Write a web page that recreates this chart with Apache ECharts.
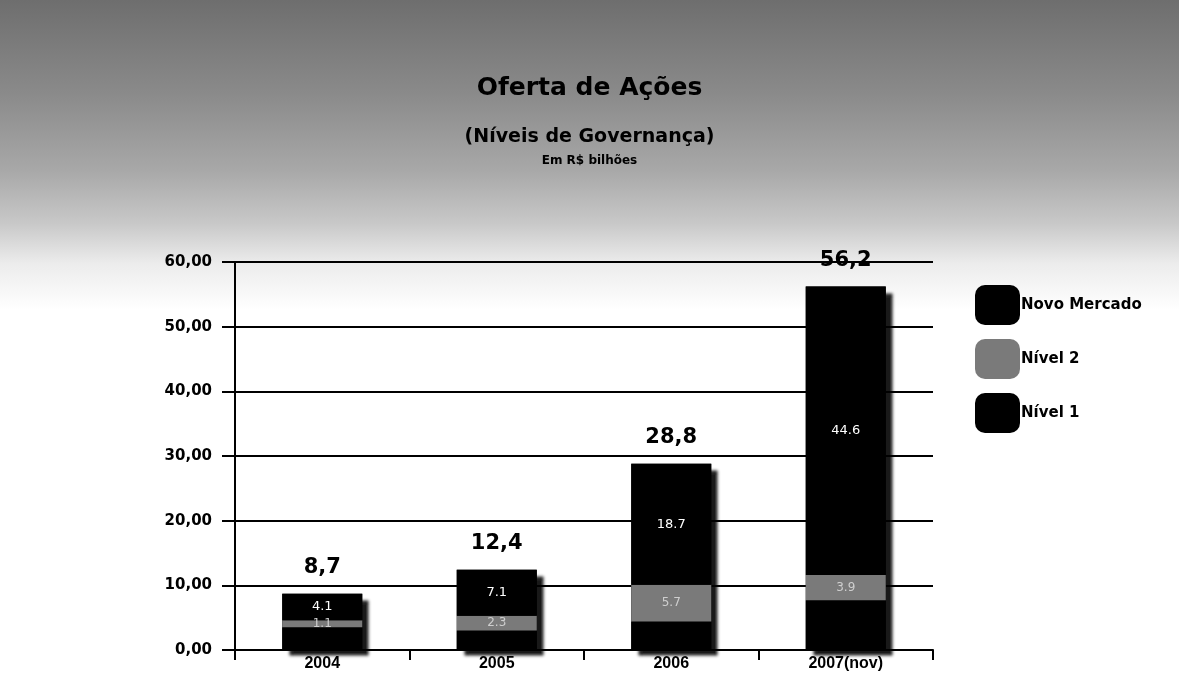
<!DOCTYPE html>
<html>
<head>
<meta charset="utf-8">
<script src="https://cdn.jsdelivr.net/npm/echarts@6/dist/echarts.min.js"></script>
<style>
  html, body { margin: 0; padding: 0; background: #fff; }
  #main { width: 1179px; height: 679px; }
</style>
</head>
<body>
<div id="main"></div>
<script>
// dados (R$ bilhões)
const anos = ['2004', '2005', '2006', '2007(nov)']
const nivel1 = [3.5, 3.0, 4.4, 7.7]
const nivel2 = [1.1, 2.3, 5.7, 3.9]
const novoMercado = [4.1, 7.1, 18.7, 44.6]
const totais = [8.7, 12.4, 28.8, 56.2]
const yTicks = [0, 10, 20, 30, 40, 50, 60]

const fmt = v => v.toFixed(1).replace('.', ',')

const chart = echarts.init(document.getElementById('main'))

const option = {
  animation: false,
  backgroundColor: '#fff',
  graphic: [
    {
      type: 'rect',
      z: -100,
      silent: true,
      shape: { x: 0, y: 0, width: 1179, height: 310 },
      style: {
        fill: new echarts.graphic.LinearGradient(0, 0, 0, 1, [
          { offset: 0, color: '#6e6e6e' },
          { offset: 0.3, color: '#8a8a8a' },
          { offset: 0.55, color: '#a8a8a8' },
          { offset: 0.72, color: '#c8c8c8' },
          { offset: 0.85, color: '#ececec' },
          { offset: 1, color: '#ffffff' }
        ])
      }
    }
  ],
  title: [
    {
      text: 'Oferta de Ações',
      left: 'center',
      top: 71,
      textStyle: { fontFamily: 'DejaVu Sans', fontWeight: 'bold', fontSize: 25, color: '#000' }
    },
    {
      text: '(Níveis de Governança)',
      left: 'center',
      top: 123,
      textStyle: { fontFamily: 'DejaVu Sans', fontWeight: 'bold', fontSize: 19, color: '#000' }
    },
    {
      text: 'Em R$ bilhões',
      left: 'center',
      top: 150,
      textStyle: { fontFamily: 'DejaVu Sans', fontWeight: 'bold', fontSize: 12, color: '#000' }
    }
  ],
  legend: {
    orient: 'vertical',
    left: 970,
    top: 280,
    itemWidth: 45,
    itemHeight: 40,
    itemGap: 14,
    icon: 'roundRect',
    data: ['Novo Mercado', 'Nível 2', 'Nível 1'],
    textStyle: {
      fontFamily: 'DejaVu Sans',
      fontWeight: 'bold',
      fontSize: 15,
      color: '#000',
      padding: [14, 0, 0, -4]
    }
  },
  grid: {
    left: 235,
    right: 246,
    top: 262,
    bottom: 29
  },
  xAxis: {
    type: 'category',
    data: anos,
    axisLine: { lineStyle: { color: '#000', width: 2 } },
    axisTick: { show: true, length: 10, lineStyle: { color: '#000', width: 2 } },
    axisLabel: {
      margin: 6,
      fontFamily: 'Liberation Sans Narrow, Liberation Sans',
      fontWeight: 'bold',
      fontSize: 16,
      color: '#000'
    }
  },
  yAxis: {
    type: 'value',
    min: yTicks[0],
    max: yTicks[yTicks.length - 1],
    interval: 10,
    axisLine: { show: true, lineStyle: { color: '#000', width: 2 } },
    axisTick: { show: true, length: 13, lineStyle: { color: '#000', width: 2 } },
    splitLine: { lineStyle: { color: '#000', width: 2 } },
    axisLabel: {
      margin: 23,
      fontFamily: 'DejaVu Sans',
      fontWeight: 'bold',
      fontSize: 15,
      color: '#000',
      formatter: v => v.toFixed(2).replace('.', ',')
    }
  },
  series: [
    {
      // barra de fundo só para a sombra deslocada (efeito de relevo)
      name: 'Sombra',
      type: 'bar',
      barWidth: 80,
      barGap: '-100%',
      z: 1,
      data: totais,
      itemStyle: {
        color: '#000',
        shadowColor: 'rgba(0,0,0,0.9)',
        shadowBlur: 3,
        shadowOffsetX: 7,
        shadowOffsetY: 6
      },
      label: {
        show: true,
        position: 'top',
        distance: 16,
        color: '#000',
        fontFamily: 'DejaVu Sans',
        fontWeight: 'bold',
        fontSize: 21,
        formatter: p => fmt(p.value)
      }
    },
    {
      name: 'Nível 1',
      type: 'bar',
      stack: 'total',
      barWidth: 80,
      data: nivel1,
      itemStyle: { color: '#000' }
    },
    {
      name: 'Nível 2',
      type: 'bar',
      stack: 'total',
      data: nivel2,
      itemStyle: { color: '#7a7a7a' },
      label: {
        show: true,
        position: 'inside',
        color: '#cfcfcf',
        fontFamily: 'DejaVu Sans',
        fontSize: 12,
        formatter: p => p.value.toFixed(1)
      }
    },
    {
      name: 'Novo Mercado',
      type: 'bar',
      stack: 'total',
      data: novoMercado,
      itemStyle: { color: '#000' },
      label: {
        show: true,
        position: 'inside',
        color: '#fff',
        fontFamily: 'DejaVu Sans',
        fontSize: 13,
        formatter: p => p.value.toFixed(1)
      }
    }
  ]
}

chart.setOption(option)
</script>
</body>
</html>
